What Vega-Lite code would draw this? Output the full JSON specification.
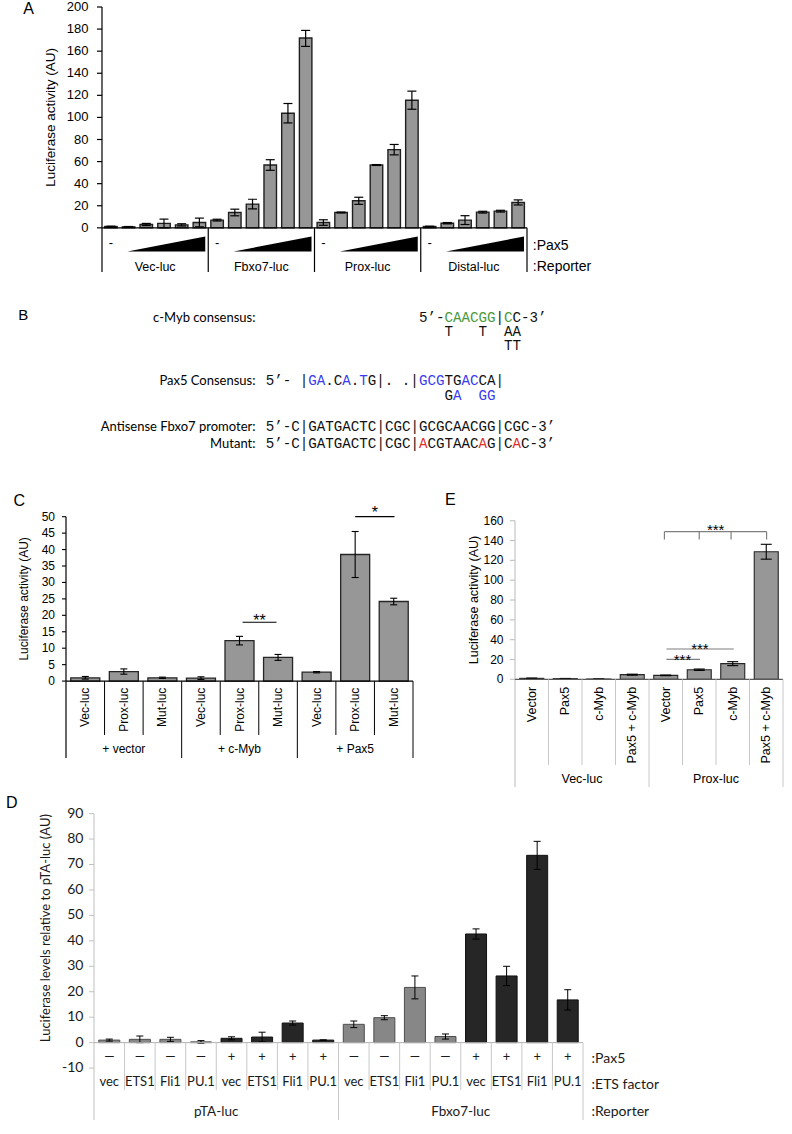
{
"$schema": "https://vega.github.io/schema/vega-lite/v6.json",
"width": 792, "height": 1134, "padding": 0, "autosize": "none", "background": "#ffffff",
"config": {"view": {"stroke": null}, "axis": {"grid": false}},
"datasets": {
 "A": [
  {"i":1,"g":"Vec-luc","v":1.2,"lo":0.9,"hi":1.5},{"i":2,"g":"Vec-luc","v":0.9,"lo":0.6,"hi":1.2},{"i":3,"g":"Vec-luc","v":3.0,"lo":2.0,"hi":4.0},{"i":4,"g":"Vec-luc","v":4.0,"lo":0.1,"hi":7.9},{"i":5,"g":"Vec-luc","v":2.7,"lo":1.7,"hi":3.7},{"i":6,"g":"Vec-luc","v":4.8,"lo":0.9,"hi":8.8},
  {"i":7,"g":"Fbxo7-luc","v":7.0,"lo":6.2,"hi":7.8},{"i":8,"g":"Fbxo7-luc","v":13.9,"lo":10.9,"hi":16.9},{"i":9,"g":"Fbxo7-luc","v":21.5,"lo":17.1,"hi":25.9},{"i":10,"g":"Fbxo7-luc","v":56.9,"lo":52.1,"hi":61.7},{"i":11,"g":"Fbxo7-luc","v":103.8,"lo":95.0,"hi":112.6},{"i":12,"g":"Fbxo7-luc","v":171.9,"lo":164.3,"hi":178.8},
  {"i":13,"g":"Prox-luc","v":4.8,"lo":2.3,"hi":7.3},{"i":14,"g":"Prox-luc","v":13.9,"lo":13.5,"hi":14.3},{"i":15,"g":"Prox-luc","v":24.5,"lo":21.3,"hi":27.7},{"i":16,"g":"Prox-luc","v":56.9,"lo":56.5,"hi":57.3},{"i":17,"g":"Prox-luc","v":70.8,"lo":66.1,"hi":75.5},{"i":18,"g":"Prox-luc","v":115.6,"lo":107.4,"hi":123.8},
  {"i":19,"g":"Distal-luc","v":1.2,"lo":0.9,"hi":1.5},{"i":20,"g":"Distal-luc","v":4.2,"lo":3.6,"hi":4.8},{"i":21,"g":"Distal-luc","v":7.0,"lo":3.0,"hi":11.0},{"i":22,"g":"Distal-luc","v":14.2,"lo":13.4,"hi":15.0},{"i":23,"g":"Distal-luc","v":15.1,"lo":14.3,"hi":15.9},{"i":24,"g":"Distal-luc","v":23.0,"lo":20.7,"hi":25.3}
 ],
 "A_ax": [{"t":0},{"t":20},{"t":40},{"t":60},{"t":80},{"t":100},{"t":120},{"t":140},{"t":160},{"t":180},{"t":200}],
 "A_grp": [
  {"g":"Vec-luc","ctrl":1,"mid":3.5,"end":6.5},{"g":"Fbxo7-luc","ctrl":7,"mid":9.5,"end":12.5},{"g":"Prox-luc","ctrl":13,"mid":15.5,"end":18.5},{"g":"Distal-luc","ctrl":19,"mid":21.5,"end":24.5}
 ],
 "A_tri": [
  {"g":"Vec-luc","x":1.93,"lo":-21.4,"hi":-21.4},{"g":"Vec-luc","x":6.33,"lo":-21.4,"hi":-7.9},
  {"g":"Fbxo7-luc","x":7.93,"lo":-21.4,"hi":-21.4},{"g":"Fbxo7-luc","x":12.33,"lo":-21.4,"hi":-7.9},
  {"g":"Prox-luc","x":13.93,"lo":-21.4,"hi":-21.4},{"g":"Prox-luc","x":18.33,"lo":-21.4,"hi":-7.9},
  {"g":"Distal-luc","x":19.93,"lo":-21.4,"hi":-21.4},{"g":"Distal-luc","x":24.33,"lo":-21.4,"hi":-7.9}
 ],
 "B_lab": [
  {"t":"c-Myb consensus:","line":0},{"t":"Pax5 Consensus:","line":5},{"t":"Antisense Fbxo7 promoter:","line":8.65},{"t":"Mutant:","line":10}
 ],
 "B_seq": [
  {"line":0,"col":18,"hue":"plain","s":"5’-"},
  {"line":0,"col":21,"hue":"myb","s":"CAACGG"},
  {"line":0,"col":27,"hue":"plain","s":"|"},
  {"line":0,"col":28,"hue":"myb","s":"C"},
  {"line":0,"col":29,"hue":"plain","s":"C-3’"},
  {"line":1.12,"col":21,"hue":"plain","s":"T"},
  {"line":1.12,"col":25,"hue":"plain","s":"T"},
  {"line":1.12,"col":28,"hue":"plain","s":"AA"},
  {"line":2.22,"col":28,"hue":"plain","s":"TT"},
  {"line":5,"col":0,"hue":"plain","s":"5’-"},
  {"line":5,"col":4,"hue":"plain","s":"|"},
  {"line":5,"col":5,"hue":"pax","s":"GA"},
  {"line":5,"col":7,"hue":"plain","s":".C"},
  {"line":5,"col":9,"hue":"pax","s":"A"},
  {"line":5,"col":10,"hue":"plain","s":"."},
  {"line":5,"col":11,"hue":"pax","s":"T"},
  {"line":5,"col":12,"hue":"plain","s":"G|."},
  {"line":5,"col":16,"hue":"plain","s":".|"},
  {"line":5,"col":18,"hue":"pax","s":"GCG"},
  {"line":5,"col":21,"hue":"plain","s":"TG"},
  {"line":5,"col":23,"hue":"pax","s":"AC"},
  {"line":5,"col":25,"hue":"plain","s":"CA|"},
  {"line":6.2,"col":21,"hue":"plain","s":"G"},
  {"line":6.2,"col":22,"hue":"pax","s":"A"},
  {"line":6.2,"col":25,"hue":"pax","s":"GG"},
  {"line":8.65,"col":0,"hue":"plain","s":"5’-C|GATGACTC|CGC|GCGCAACGG|CGC-3’"},
  {"line":10,"col":0,"hue":"plain","s":"5’-C|GATGACTC|CGC|"},
  {"line":10,"col":18,"hue":"mut","s":"A"},
  {"line":10,"col":19,"hue":"plain","s":"CGTAAC"},
  {"line":10,"col":25,"hue":"mut","s":"A"},
  {"line":10,"col":26,"hue":"plain","s":"G|C"},
  {"line":10,"col":29,"hue":"mut","s":"A"},
  {"line":10,"col":30,"hue":"plain","s":"C-3’"}
 ],
 "C": [
  {"i":1,"rep":"Vec-luc","grp":"+ vector","v":1.0,"lo":0.6,"hi":1.4},{"i":2,"rep":"Prox-luc","grp":"+ vector","v":2.9,"lo":2.1,"hi":3.7},{"i":3,"rep":"Mut-luc","grp":"+ vector","v":1.0,"lo":0.8,"hi":1.2},
  {"i":4,"rep":"Vec-luc","grp":"+ c-Myb","v":0.9,"lo":0.5,"hi":1.3},{"i":5,"rep":"Prox-luc","grp":"+ c-Myb","v":12.3,"lo":11.0,"hi":13.6},{"i":6,"rep":"Mut-luc","grp":"+ c-Myb","v":7.2,"lo":6.3,"hi":8.1},
  {"i":7,"rep":"Vec-luc","grp":"+ Pax5","v":2.7,"lo":2.5,"hi":2.9},{"i":8,"rep":"Prox-luc","grp":"+ Pax5","v":38.5,"lo":31.5,"hi":45.5},{"i":9,"rep":"Mut-luc","grp":"+ Pax5","v":24.2,"lo":23.2,"hi":25.2}
 ],
 "C_ax": [{"t":0},{"t":5},{"t":10},{"t":15},{"t":20},{"t":25},{"t":30},{"t":35},{"t":40},{"t":45},{"t":50}],
 "C_grp": [{"grp":"+ vector","mid":2},{"grp":"+ c-Myb","mid":5},{"grp":"+ Pax5","mid":8}],
 "C_sep": [{"s":1.5,"k":"short"},{"s":2.5,"k":"short"},{"s":3.5,"k":"long"},{"s":4.5,"k":"short"},{"s":5.5,"k":"short"},{"s":6.5,"k":"long"},{"s":7.5,"k":"short"},{"s":8.5,"k":"short"},{"s":9.5,"k":"long"}],
 "C_sig": [{"xa":5.08,"xb":5.96,"xm":5.52,"y":17.9,"ty":16.9,"lab":"**"},{"xa":8.0,"xb":9.02,"xm":8.51,"y":50,"ty":49.6,"lab":"*"}],
 "E": [
  {"i":1,"lab":"Vector","rep":"Vec-luc","v":1.0,"lo":0.7,"hi":1.3},{"i":2,"lab":"Pax5","rep":"Vec-luc","v":0.7,"lo":0.5,"hi":0.9},{"i":3,"lab":"c-Myb","rep":"Vec-luc","v":0.3,"lo":0.2,"hi":0.4},{"i":4,"lab":"Pax5 + c-Myb","rep":"Vec-luc","v":4.7,"lo":4.2,"hi":5.2},
  {"i":5,"lab":"Vector","rep":"Prox-luc","v":4.0,"lo":3.7,"hi":4.3},{"i":6,"lab":"Pax5","rep":"Prox-luc","v":9.7,"lo":9.0,"hi":10.4},{"i":7,"lab":"c-Myb","rep":"Prox-luc","v":15.8,"lo":13.8,"hi":17.8},{"i":8,"lab":"Pax5 + c-Myb","rep":"Prox-luc","v":128.7,"lo":121.2,"hi":136.2}
 ],
 "E_ax": [{"t":0},{"t":20},{"t":40},{"t":60},{"t":80},{"t":100},{"t":120},{"t":140},{"t":160}],
 "E_grp": [{"rep":"Vec-luc","mid":2.5},{"rep":"Prox-luc","mid":6.5}],
 "E_sep": [{"s":1.5,"k":"short"},{"s":2.5,"k":"short"},{"s":3.5,"k":"short"},{"s":4.5,"k":"long"},{"s":5.5,"k":"short"},{"s":6.5,"k":"short"},{"s":7.5,"k":"short"},{"s":8.5,"k":"long"}],
 "E_br": [
  {"xa":4.96,"xb":8.01,"ya":149,"yb":149},{"xa":4.96,"xb":4.96,"ya":149,"yb":141},{"xa":6.0,"xb":6.0,"ya":149,"yb":141},{"xa":6.95,"xb":6.95,"ya":149,"yb":141},{"xa":8.01,"xb":8.01,"ya":149,"yb":141},
  {"xa":5.02,"xb":7.03,"ya":30.6,"yb":30.6},{"xa":5.02,"xb":6.02,"ya":20.2,"yb":20.2}
 ],
 "E_sig": [{"xm":6.49,"ty":145.3,"lab":"***"},{"xm":6.02,"ty":25.4,"lab":"***"},{"xm":5.5,"ty":14.8,"lab":"***"}],
 "D": [
  {"i":1,"pax":"—","ets":"vec","rep":"pTA-luc","v":1.0,"lo":0.6,"hi":1.4},{"i":2,"pax":"—","ets":"ETS1","rep":"pTA-luc","v":1.3,"lo":0.0,"hi":2.6},{"i":3,"pax":"—","ets":"Fli1","rep":"pTA-luc","v":1.3,"lo":0.5,"hi":2.1},{"i":4,"pax":"—","ets":"PU.1","rep":"pTA-luc","v":0.3,"lo":-0.2,"hi":0.8},
  {"i":5,"pax":"+","ets":"vec","rep":"pTA-luc","v":1.7,"lo":1.1,"hi":2.3},{"i":6,"pax":"+","ets":"ETS1","rep":"pTA-luc","v":2.2,"lo":0.3,"hi":4.1},{"i":7,"pax":"+","ets":"Fli1","rep":"pTA-luc","v":7.7,"lo":6.9,"hi":8.5},{"i":8,"pax":"+","ets":"PU.1","rep":"pTA-luc","v":1.0,"lo":0.9,"hi":1.1},
  {"i":9,"pax":"—","ets":"vec","rep":"Fbxo7-luc","v":7.2,"lo":5.9,"hi":8.5},{"i":10,"pax":"—","ets":"ETS1","rep":"Fbxo7-luc","v":9.8,"lo":9.0,"hi":10.6},{"i":11,"pax":"—","ets":"Fli1","rep":"Fbxo7-luc","v":21.7,"lo":17.2,"hi":26.2},{"i":12,"pax":"—","ets":"PU.1","rep":"Fbxo7-luc","v":2.4,"lo":1.4,"hi":3.4},
  {"i":13,"pax":"+","ets":"vec","rep":"Fbxo7-luc","v":42.7,"lo":40.7,"hi":44.7},{"i":14,"pax":"+","ets":"ETS1","rep":"Fbxo7-luc","v":26.2,"lo":22.4,"hi":30.0},{"i":15,"pax":"+","ets":"Fli1","rep":"Fbxo7-luc","v":73.6,"lo":68.1,"hi":79.1},{"i":16,"pax":"+","ets":"PU.1","rep":"Fbxo7-luc","v":16.8,"lo":12.8,"hi":20.8}
 ],
 "D_ax": [{"t":-10},{"t":0},{"t":10},{"t":20},{"t":30},{"t":40},{"t":50},{"t":60},{"t":70},{"t":80},{"t":90}],
 "D_grp": [{"rep":"pTA-luc","mid":4.5},{"rep":"Fbxo7-luc","mid":12.5}],
 "D_sep": [{"s":1.5,"k":"short"},{"s":2.5,"k":"short"},{"s":3.5,"k":"short"},{"s":4.5,"k":"short"},{"s":5.5,"k":"short"},{"s":6.5,"k":"short"},{"s":7.5,"k":"short"},{"s":8.5,"k":"long"},{"s":9.5,"k":"short"},{"s":10.5,"k":"short"},{"s":11.5,"k":"short"},{"s":12.5,"k":"short"},{"s":13.5,"k":"short"},{"s":14.5,"k":"short"},{"s":15.5,"k":"short"},{"s":16.5,"k":"long"}]
},
"resolve": {"scale": {"x": "independent", "y": "independent"}},
"layer": [
 {"layer": [
  {"data": {"name": "A"}, "mark": {"type": "bar", "width": 12.5, "fill": "#979797", "stroke": "#1f1f1f", "strokeWidth": 1.4},
   "encoding": {
    "x": {"field": "i", "type": "quantitative", "scale": {"domain": [0.5, 24.5], "range": [97, 532], "nice": false, "zero": false}, "axis": null},
    "y": {"field": "v", "type": "quantitative", "scale": {"domain": [-40, 200], "range": [272, 7], "nice": false, "zero": false}, "axis": null},
    "y2": {"datum": 0}}},
  {"data": {"name": "A"}, "mark": {"type": "rule", "color": "#000000", "strokeWidth": 1.2},
   "encoding": {"x": {"field": "i", "type": "quantitative", "axis": null}, "y": {"field": "lo", "type": "quantitative", "axis": null}, "y2": {"field": "hi"}}},
  {"data": {"name": "A"}, "mark": {"type": "tick", "orient": "horizontal", "size": 9, "thickness": 1.2, "color": "#000000", "opacity": 1},
   "encoding": {"x": {"field": "i", "type": "quantitative", "axis": null}, "y": {"field": "lo", "type": "quantitative", "axis": null}}},
  {"data": {"name": "A"}, "mark": {"type": "tick", "orient": "horizontal", "size": 9, "thickness": 1.2, "color": "#000000", "opacity": 1},
   "encoding": {"x": {"field": "i", "type": "quantitative", "axis": null}, "y": {"field": "hi", "type": "quantitative", "axis": null}}},
  {"data": {"values": [{}]}, "mark": {"type": "rule", "color": "#000000", "strokeWidth": 1.2},
   "encoding": {"x": {"datum": 0.5, "axis": null}, "x2": {"datum": 24.5}, "y": {"datum": 0, "axis": null}}},
  {"data": {"values": [{}]}, "mark": {"type": "rule", "color": "#000000", "strokeWidth": 1.2},
   "encoding": {"x": {"datum": 0.5, "axis": null}, "y": {"datum": -40, "axis": null}, "y2": {"datum": 200}}},
  {"data": {"name": "A_ax"}, "mark": {"type": "tick", "orient": "horizontal", "size": 5, "thickness": 1.2, "xOffset": -2.5, "color": "#000000", "opacity": 1},
   "encoding": {"x": {"datum": 0.5, "axis": null}, "y": {"field": "t", "type": "quantitative", "axis": null}}},
  {"data": {"name": "A_ax"}, "mark": {"type": "text", "align": "right", "baseline": "middle", "dx": -13.5, "font": "Liberation Sans", "fontSize": 13, "color": "#000000"},
   "encoding": {"x": {"datum": 0.5, "axis": null}, "y": {"field": "t", "type": "quantitative", "axis": null}, "text": {"field": "t"}}},
  {"data": {"name": "A_grp"}, "mark": {"type": "rule", "color": "#000000", "strokeWidth": 1.2},
   "encoding": {"x": {"field": "end", "type": "quantitative", "axis": null}, "y": {"datum": 0, "axis": null}, "y2": {"datum": -40}}},
  {"data": {"name": "A_tri"}, "mark": {"type": "area", "color": "#000000", "opacity": 1},
   "encoding": {"x": {"field": "x", "type": "quantitative", "axis": null}, "y": {"field": "lo", "type": "quantitative", "axis": null, "stack": null}, "y2": {"field": "hi"}, "detail": {"field": "g"}}},
  {"data": {"name": "A_grp"}, "mark": {"type": "text", "font": "Liberation Sans", "fontSize": 13, "color": "#000000", "baseline": "middle"},
   "encoding": {"x": {"field": "ctrl", "type": "quantitative", "axis": null}, "y": {"datum": -13.6, "axis": null}, "text": {"value": "-"}}},
  {"data": {"name": "A_grp"}, "mark": {"type": "text", "font": "Liberation Sans", "fontSize": 12.5, "color": "#000000", "baseline": "middle"},
   "encoding": {"x": {"field": "mid", "type": "quantitative", "axis": null}, "y": {"datum": -35.3, "axis": null}, "text": {"field": "g"}}},
  {"data": {"values": [{}]}, "mark": {"type": "text", "font": "Liberation Sans", "fontSize": 14, "color": "#000000", "align": "left", "baseline": "middle"},
   "encoding": {"x": {"datum": 24.83, "axis": null}, "y": {"datum": -16.9, "axis": null}, "text": {"value": ":Pax5"}}},
  {"data": {"values": [{}]}, "mark": {"type": "text", "font": "Liberation Sans", "fontSize": 14, "color": "#000000", "align": "left", "baseline": "middle"},
   "encoding": {"x": {"datum": 24.83, "axis": null}, "y": {"datum": -35.3, "axis": null}, "text": {"value": ":Reporter"}}},
  {"data": {"values": [{}]}, "mark": {"type": "text", "font": "Liberation Sans", "fontSize": 13.5, "color": "#000000", "angle": 270, "align": "center", "baseline": "middle"},
   "encoding": {"x": {"datum": -2.37, "axis": null}, "y": {"datum": 100, "axis": null}, "text": {"value": "Luciferase activity (AU)"}}},
  {"data": {"values": [{}]}, "mark": {"type": "text", "font": "Liberation Sans", "fontSize": 16, "color": "#000000", "align": "center", "baseline": "middle"},
   "encoding": {"x": {"datum": -3.64, "axis": null}, "y": {"datum": 198.2, "axis": null}, "text": {"value": "A"}}}
 ]},
 {"layer": [
  {"data": {"name": "B_lab"}, "mark": {"type": "text", "align": "right", "baseline": "middle", "font": "Lato", "fontSize": 13, "color": "#000000"},
   "encoding": {"x": {"datum": -1.2, "scale": {"domain": [0, 34], "range": [265.7, 555.04], "nice": false, "zero": false}, "axis": null},
                "y": {"field": "line", "type": "quantitative", "scale": {"domain": [0, 10], "range": [318, 444], "nice": false, "zero": false}, "axis": null},
                "text": {"field": "t"}}},
  {"data": {"name": "B_seq"}, "mark": {"type": "text", "align": "left", "baseline": "middle", "font": "Liberation Mono", "fontSize": 14.2},
   "encoding": {"x": {"field": "col", "type": "quantitative", "axis": null}, "y": {"field": "line", "type": "quantitative", "axis": null}, "text": {"field": "s"},
                "color": {"field": "hue", "type": "nominal", "scale": {"domain": ["plain", "myb", "pax", "mut"], "range": ["#111111", "#4a9a3c", "#3a3aee", "#e2302b"]}, "legend": null}}},
  {"data": {"values": [{}]}, "mark": {"type": "text", "font": "Liberation Sans", "fontSize": 15, "color": "#000000", "align": "center", "baseline": "middle"},
   "encoding": {"x": {"datum": -28.5, "axis": null}, "y": {"datum": -0.24, "axis": null}, "text": {"value": "B"}}}
 ]},
 {"layer": [
  {"data": {"name": "C"}, "mark": {"type": "bar", "width": 29, "fill": "#979797", "stroke": "#262626", "strokeWidth": 1.3},
   "encoding": {
    "x": {"field": "i", "type": "quantitative", "scale": {"domain": [0.5, 9.5], "range": [61, 418], "nice": false, "zero": false}, "axis": null},
    "y": {"field": "v", "type": "quantitative", "scale": {"domain": [-23.4, 50], "range": [758, 516.7], "nice": false, "zero": false}, "axis": null},
    "y2": {"datum": 0}}},
  {"data": {"name": "C"}, "mark": {"type": "rule", "color": "#000000", "strokeWidth": 1.1},
   "encoding": {"x": {"field": "i", "type": "quantitative", "axis": null}, "y": {"field": "lo", "type": "quantitative", "axis": null}, "y2": {"field": "hi"}}},
  {"data": {"name": "C"}, "mark": {"type": "tick", "orient": "horizontal", "size": 7, "thickness": 1.1, "color": "#000000", "opacity": 1},
   "encoding": {"x": {"field": "i", "type": "quantitative", "axis": null}, "y": {"field": "lo", "type": "quantitative", "axis": null}}},
  {"data": {"name": "C"}, "mark": {"type": "tick", "orient": "horizontal", "size": 7, "thickness": 1.1, "color": "#000000", "opacity": 1},
   "encoding": {"x": {"field": "i", "type": "quantitative", "axis": null}, "y": {"field": "hi", "type": "quantitative", "axis": null}}},
  {"data": {"values": [{}]}, "mark": {"type": "rule", "color": "#000000", "strokeWidth": 1.2},
   "encoding": {"x": {"datum": 0.5, "axis": null}, "x2": {"datum": 9.5}, "y": {"datum": 0, "axis": null}}},
  {"data": {"values": [{}]}, "mark": {"type": "rule", "color": "#000000", "strokeWidth": 1.2},
   "encoding": {"x": {"datum": 0.5, "axis": null}, "y": {"datum": -23.4, "axis": null}, "y2": {"datum": 50}}},
  {"data": {"name": "C_ax"}, "mark": {"type": "tick", "orient": "horizontal", "size": 4, "thickness": 1.1, "xOffset": -2, "color": "#000000", "opacity": 1},
   "encoding": {"x": {"datum": 0.5, "axis": null}, "y": {"field": "t", "type": "quantitative", "axis": null}}},
  {"data": {"name": "C_ax"}, "mark": {"type": "text", "align": "right", "baseline": "middle", "dx": -11, "font": "Liberation Sans", "fontSize": 12, "color": "#000000"},
   "encoding": {"x": {"datum": 0.5, "axis": null}, "y": {"field": "t", "type": "quantitative", "axis": null}, "text": {"field": "t"}}},
  {"data": {"name": "C_sep"}, "transform": [{"filter": "datum.k == 'short'"}], "mark": {"type": "rule", "color": "#000000", "strokeWidth": 1},
   "encoding": {"x": {"field": "s", "type": "quantitative", "axis": null}, "y": {"datum": 0, "axis": null}, "y2": {"datum": -16.4}}},
  {"data": {"name": "C_sep"}, "transform": [{"filter": "datum.k == 'long'"}], "mark": {"type": "rule", "color": "#000000", "strokeWidth": 1},
   "encoding": {"x": {"field": "s", "type": "quantitative", "axis": null}, "y": {"datum": 0, "axis": null}, "y2": {"datum": -23.4}}},
  {"data": {"name": "C"}, "mark": {"type": "text", "angle": 270, "align": "right", "baseline": "middle", "font": "Liberation Sans", "fontSize": 12, "color": "#000000"},
   "encoding": {"x": {"field": "i", "type": "quantitative", "axis": null}, "y": {"datum": -2.0, "axis": null}, "text": {"field": "rep"}}},
  {"data": {"name": "C_grp"}, "mark": {"type": "text", "align": "center", "baseline": "middle", "font": "Liberation Sans", "fontSize": 12, "color": "#000000"},
   "encoding": {"x": {"field": "mid", "type": "quantitative", "axis": null}, "y": {"datum": -20.7, "axis": null}, "text": {"field": "grp"}}},
  {"data": {"name": "C_sig"}, "mark": {"type": "rule", "color": "#000000", "strokeWidth": 1.2},
   "encoding": {"x": {"field": "xa", "type": "quantitative", "axis": null}, "x2": {"field": "xb"}, "y": {"field": "y", "type": "quantitative", "axis": null}}},
  {"data": {"name": "C_sig"}, "mark": {"type": "text", "align": "center", "baseline": "alphabetic", "font": "Liberation Sans", "fontSize": 16, "color": "#000000"},
   "encoding": {"x": {"field": "xm", "type": "quantitative", "axis": null}, "y": {"field": "ty", "type": "quantitative", "axis": null}, "text": {"field": "lab"}}},
  {"data": {"values": [{}]}, "mark": {"type": "text", "font": "Liberation Sans", "fontSize": 12, "color": "#000000", "angle": 270, "align": "center", "baseline": "middle"},
   "encoding": {"x": {"datum": -0.584, "axis": null}, "y": {"datum": 25, "axis": null}, "text": {"value": "Luciferase activity (AU)"}}},
  {"data": {"values": [{}]}, "mark": {"type": "text", "font": "Liberation Sans", "fontSize": 16, "color": "#000000", "align": "center", "baseline": "middle"},
   "encoding": {"x": {"datum": -0.71, "axis": null}, "y": {"datum": 54.8, "axis": null}, "text": {"value": "C"}}}
 ]},
 {"layer": [
  {"data": {"name": "E"}, "mark": {"type": "bar", "width": 24, "fill": "#979797", "stroke": "#262626", "strokeWidth": 1.1},
   "encoding": {
    "x": {"field": "i", "type": "quantitative", "scale": {"domain": [0.5, 8.5], "range": [510, 788], "nice": false, "zero": false}, "axis": null},
    "y": {"field": "v", "type": "quantitative", "scale": {"domain": [-108.6, 160], "range": [787, 520.7], "nice": false, "zero": false}, "axis": null},
    "y2": {"datum": 0}}},
  {"data": {"name": "E"}, "mark": {"type": "rule", "color": "#000000", "strokeWidth": 1.1},
   "encoding": {"x": {"field": "i", "type": "quantitative", "axis": null}, "y": {"field": "lo", "type": "quantitative", "axis": null}, "y2": {"field": "hi"}}},
  {"data": {"name": "E"}, "mark": {"type": "tick", "orient": "horizontal", "size": 11, "thickness": 1.1, "color": "#000000", "opacity": 1},
   "encoding": {"x": {"field": "i", "type": "quantitative", "axis": null}, "y": {"field": "lo", "type": "quantitative", "axis": null}}},
  {"data": {"name": "E"}, "mark": {"type": "tick", "orient": "horizontal", "size": 11, "thickness": 1.1, "color": "#000000", "opacity": 1},
   "encoding": {"x": {"field": "i", "type": "quantitative", "axis": null}, "y": {"field": "hi", "type": "quantitative", "axis": null}}},
  {"data": {"values": [{}]}, "mark": {"type": "rule", "color": "#c0c0c0", "strokeWidth": 1.1},
   "encoding": {"x": {"datum": 0.5, "axis": null}, "y": {"datum": -108.6, "axis": null}, "y2": {"datum": 160}}},
  {"data": {"name": "E_ax"}, "mark": {"type": "tick", "orient": "horizontal", "size": 5, "thickness": 1.1, "xOffset": -2.5, "color": "#c0c0c0", "opacity": 1},
   "encoding": {"x": {"datum": 0.5, "axis": null}, "y": {"field": "t", "type": "quantitative", "axis": null}}},
  {"data": {"name": "E_ax"}, "mark": {"type": "text", "align": "right", "baseline": "middle", "dx": -11.5, "font": "Liberation Sans", "fontSize": 12, "color": "#000000"},
   "encoding": {"x": {"datum": 0.5, "axis": null}, "y": {"field": "t", "type": "quantitative", "axis": null}, "text": {"field": "t"}}},
  {"data": {"values": [{}]}, "mark": {"type": "rule", "color": "#595959", "strokeWidth": 1.2},
   "encoding": {"x": {"datum": 0.5, "axis": null}, "x2": {"datum": 8.5}, "y": {"datum": 0, "axis": null}}},
  {"data": {"name": "E_sep"}, "transform": [{"filter": "datum.k == 'short'"}], "mark": {"type": "rule", "color": "#c8c8c8", "strokeWidth": 1},
   "encoding": {"x": {"field": "s", "type": "quantitative", "axis": null}, "y": {"datum": 0, "axis": null}, "y2": {"datum": -86.4}}},
  {"data": {"name": "E_sep"}, "transform": [{"filter": "datum.k == 'long'"}], "mark": {"type": "rule", "color": "#c8c8c8", "strokeWidth": 1},
   "encoding": {"x": {"field": "s", "type": "quantitative", "axis": null}, "y": {"datum": 0, "axis": null}, "y2": {"datum": -108.6}}},
  {"data": {"name": "E"}, "mark": {"type": "text", "angle": 270, "align": "right", "baseline": "middle", "font": "Liberation Sans", "fontSize": 12.5, "color": "#000000"},
   "encoding": {"x": {"field": "i", "type": "quantitative", "axis": null}, "y": {"datum": -7.5, "axis": null}, "text": {"field": "lab"}}},
  {"data": {"name": "E_grp"}, "mark": {"type": "text", "align": "center", "baseline": "middle", "font": "Liberation Sans", "fontSize": 12.5, "color": "#000000"},
   "encoding": {"x": {"field": "mid", "type": "quantitative", "axis": null}, "y": {"datum": -100.6, "axis": null}, "text": {"field": "rep"}}},
  {"data": {"name": "E_br"}, "mark": {"type": "rule", "color": "#7f7f7f", "strokeWidth": 1.2},
   "encoding": {"x": {"field": "xa", "type": "quantitative", "axis": null}, "x2": {"field": "xb"}, "y": {"field": "ya", "type": "quantitative", "axis": null}, "y2": {"field": "yb"}}},
  {"data": {"name": "E_sig"}, "mark": {"type": "text", "align": "center", "baseline": "alphabetic", "font": "Liberation Sans", "fontSize": 15, "color": "#000000"},
   "encoding": {"x": {"field": "xm", "type": "quantitative", "axis": null}, "y": {"field": "ty", "type": "quantitative", "axis": null}, "text": {"field": "lab"}}},
  {"data": {"values": [{}]}, "mark": {"type": "text", "font": "Liberation Sans", "fontSize": 12.5, "color": "#000000", "angle": 270, "align": "center", "baseline": "middle"},
   "encoding": {"x": {"datum": -0.737, "axis": null}, "y": {"datum": 80, "axis": null}, "text": {"value": "Luciferase activity (AU)"}}},
  {"data": {"values": [{}]}, "mark": {"type": "text", "font": "Liberation Sans", "fontSize": 16, "color": "#000000", "align": "center", "baseline": "middle"},
   "encoding": {"x": {"datum": -1.43, "axis": null}, "y": {"datum": 180.9, "axis": null}, "text": {"value": "E"}}}
 ]},
 {"layer": [
  {"data": {"name": "D"}, "mark": {"type": "bar", "width": 21, "strokeWidth": 1},
   "encoding": {
    "x": {"field": "i", "type": "quantitative", "scale": {"domain": [0.5, 16.5], "range": [89, 588], "nice": false, "zero": false}, "axis": null},
    "y": {"field": "v", "type": "quantitative", "scale": {"domain": [-30.4, 90], "range": [1120, 813.6], "nice": false, "zero": false}, "axis": null},
    "y2": {"datum": 0},
    "fill": {"field": "pax", "type": "nominal", "scale": {"domain": ["—", "+"], "range": ["#878787", "#262626"]}, "legend": null},
    "stroke": {"field": "pax", "type": "nominal", "scale": {"domain": ["—", "+"], "range": ["#4d4d4d", "#111111"]}, "legend": null}}},
  {"data": {"name": "D"}, "mark": {"type": "rule", "color": "#000000", "strokeWidth": 1},
   "encoding": {"x": {"field": "i", "type": "quantitative", "axis": null}, "y": {"field": "lo", "type": "quantitative", "axis": null}, "y2": {"field": "hi"}}},
  {"data": {"name": "D"}, "mark": {"type": "tick", "orient": "horizontal", "size": 7, "thickness": 1, "color": "#000000", "opacity": 1},
   "encoding": {"x": {"field": "i", "type": "quantitative", "axis": null}, "y": {"field": "lo", "type": "quantitative", "axis": null}}},
  {"data": {"name": "D"}, "mark": {"type": "tick", "orient": "horizontal", "size": 7, "thickness": 1, "color": "#000000", "opacity": 1},
   "encoding": {"x": {"field": "i", "type": "quantitative", "axis": null}, "y": {"field": "hi", "type": "quantitative", "axis": null}}},
  {"data": {"values": [{}]}, "mark": {"type": "rule", "color": "#c0c0c0", "strokeWidth": 1},
   "encoding": {"x": {"datum": 0.5, "axis": null}, "y": {"datum": -30.4, "axis": null}, "y2": {"datum": 90}}},
  {"data": {"name": "D_ax"}, "mark": {"type": "tick", "orient": "horizontal", "size": 5, "thickness": 1, "xOffset": -2.5, "color": "#c0c0c0", "opacity": 1},
   "encoding": {"x": {"datum": 0.5, "axis": null}, "y": {"field": "t", "type": "quantitative", "axis": null}}},
  {"data": {"name": "D_ax"}, "mark": {"type": "text", "align": "right", "baseline": "middle", "dx": -10.5, "font": "Lato", "fontSize": 14, "color": "#1a1a1a"},
   "encoding": {"x": {"datum": 0.5, "axis": null}, "y": {"field": "t", "type": "quantitative", "axis": null}, "text": {"field": "t"}}},
  {"data": {"values": [{}]}, "mark": {"type": "rule", "color": "#b0b0b0", "strokeWidth": 1},
   "encoding": {"x": {"datum": 0.5, "axis": null}, "x2": {"datum": 16.5}, "y": {"datum": 0, "axis": null}}},
  {"data": {"name": "D_sep"}, "transform": [{"filter": "datum.k == 'short'"}], "mark": {"type": "rule", "color": "#c8c8c8", "strokeWidth": 1},
   "encoding": {"x": {"field": "s", "type": "quantitative", "axis": null}, "y": {"datum": 0, "axis": null}, "y2": {"datum": -18.6}}},
  {"data": {"name": "D_sep"}, "transform": [{"filter": "datum.k == 'long'"}], "mark": {"type": "rule", "color": "#c8c8c8", "strokeWidth": 1},
   "encoding": {"x": {"field": "s", "type": "quantitative", "axis": null}, "y": {"datum": 0, "axis": null}, "y2": {"datum": -30.4}}},
  {"data": {"name": "D"}, "mark": {"type": "text", "align": "center", "baseline": "middle", "font": "Lato", "fontSize": 13, "color": "#1a1a1a"},
   "encoding": {"x": {"field": "i", "type": "quantitative", "axis": null}, "y": {"datum": -5.6, "axis": null}, "text": {"field": "pax"}}},
  {"data": {"name": "D"}, "mark": {"type": "text", "align": "center", "baseline": "middle", "font": "Lato", "fontSize": 13, "color": "#1a1a1a"},
   "encoding": {"x": {"field": "i", "type": "quantitative", "axis": null}, "y": {"datum": -15.3, "axis": null}, "text": {"field": "ets"}}},
  {"data": {"name": "D_grp"}, "mark": {"type": "text", "align": "center", "baseline": "middle", "font": "Lato", "fontSize": 13.5, "color": "#1a1a1a"},
   "encoding": {"x": {"field": "mid", "type": "quantitative", "axis": null}, "y": {"datum": -27.1, "axis": null}, "text": {"field": "rep"}}},
  {"data": {"values": [{}]}, "mark": {"type": "text", "align": "left", "baseline": "middle", "font": "Lato", "fontSize": 14, "color": "#1a1a1a"},
   "encoding": {"x": {"datum": 16.78, "axis": null}, "y": {"datum": -6.5, "axis": null}, "text": {"value": ":Pax5"}}},
  {"data": {"values": [{}]}, "mark": {"type": "text", "align": "left", "baseline": "middle", "font": "Lato", "fontSize": 14, "color": "#1a1a1a"},
   "encoding": {"x": {"datum": 16.78, "axis": null}, "y": {"datum": -16.6, "axis": null}, "text": {"value": ":ETS factor"}}},
  {"data": {"values": [{}]}, "mark": {"type": "text", "align": "left", "baseline": "middle", "font": "Lato", "fontSize": 14, "color": "#1a1a1a"},
   "encoding": {"x": {"datum": 16.78, "axis": null}, "y": {"datum": -27.1, "axis": null}, "text": {"value": ":Reporter"}}},
  {"data": {"values": [{}]}, "mark": {"type": "text", "font": "Lato", "fontSize": 13, "color": "#1a1a1a", "angle": 270, "align": "center", "baseline": "middle"},
   "encoding": {"x": {"datum": -1.07, "axis": null}, "y": {"datum": 45, "axis": null}, "text": {"value": "Luciferase levels relative to pTA-luc (AU)"}}},
  {"data": {"values": [{}]}, "mark": {"type": "text", "font": "Liberation Sans", "fontSize": 16, "color": "#000000", "align": "center", "baseline": "middle"},
   "encoding": {"x": {"datum": -2.19, "axis": null}, "y": {"datum": 94.1, "axis": null}, "text": {"value": "D"}}}
 ]}
]
}
